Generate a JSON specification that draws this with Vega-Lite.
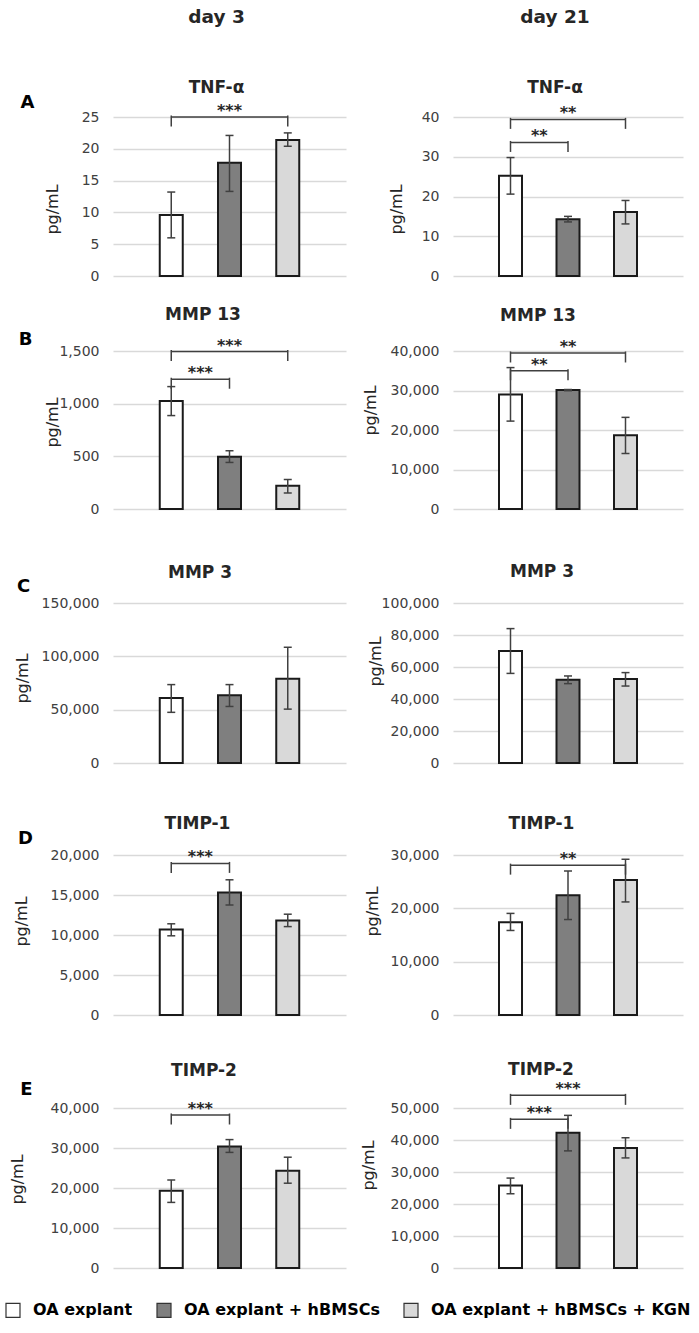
{
  "$schema": "https://vega.github.io/schema/vega-lite/v6.json",
  "background": "white",
  "padding": {"left": 5, "top": 7, "right": 5, "bottom": 5},
  "columns": 2,
  "spacing": {"row": 75, "column": 107},
  "bounds": "flush",
  "align": "each",
  "datasets": {
    "bars": [
      {"panel": "A3", "pos": 1, "group": "OA explant", "mean": 9.6, "lo": 6.0, "hi": 13.2},
      {"panel": "A3", "pos": 2, "group": "OA explant + hBMSCs", "mean": 17.8, "lo": 13.3, "hi": 22.1},
      {"panel": "A3", "pos": 3, "group": "OA explant + hBMSCs + KGN", "mean": 21.4, "lo": 20.4, "hi": 22.5},
      {"panel": "A21", "pos": 1, "group": "OA explant", "mean": 25.2, "lo": 20.6, "hi": 29.8},
      {"panel": "A21", "pos": 2, "group": "OA explant + hBMSCs", "mean": 14.3, "lo": 13.6, "hi": 15.0},
      {"panel": "A21", "pos": 3, "group": "OA explant + hBMSCs + KGN", "mean": 16.1, "lo": 13.1, "hi": 19.0},
      {"panel": "B3", "pos": 1, "group": "OA explant", "mean": 1025, "lo": 887, "hi": 1162},
      {"panel": "B3", "pos": 2, "group": "OA explant + hBMSCs", "mean": 497, "lo": 442, "hi": 553},
      {"panel": "B3", "pos": 3, "group": "OA explant + hBMSCs + KGN", "mean": 221, "lo": 152, "hi": 280},
      {"panel": "B21", "pos": 1, "group": "OA explant", "mean": 29000, "lo": 22250, "hi": 35800},
      {"panel": "B21", "pos": 2, "group": "OA explant + hBMSCs", "mean": 30100, "lo": 29950, "hi": 30250},
      {"panel": "B21", "pos": 3, "group": "OA explant + hBMSCs + KGN", "mean": 18650, "lo": 14050, "hi": 23200},
      {"panel": "C3", "pos": 1, "group": "OA explant", "mean": 61000, "lo": 47500, "hi": 73500},
      {"panel": "C3", "pos": 2, "group": "OA explant + hBMSCs", "mean": 63500, "lo": 53000, "hi": 73500},
      {"panel": "C3", "pos": 3, "group": "OA explant + hBMSCs + KGN", "mean": 79000, "lo": 50500, "hi": 108500},
      {"panel": "C21", "pos": 1, "group": "OA explant", "mean": 70000, "lo": 56000, "hi": 84000},
      {"panel": "C21", "pos": 2, "group": "OA explant + hBMSCs", "mean": 52000, "lo": 49600, "hi": 54400},
      {"panel": "C21", "pos": 3, "group": "OA explant + hBMSCs + KGN", "mean": 52500, "lo": 48100, "hi": 56500},
      {"panel": "D3", "pos": 1, "group": "OA explant", "mean": 10700, "lo": 9900, "hi": 11400},
      {"panel": "D3", "pos": 2, "group": "OA explant + hBMSCs", "mean": 15300, "lo": 13750, "hi": 16900},
      {"panel": "D3", "pos": 3, "group": "OA explant + hBMSCs + KGN", "mean": 11800, "lo": 11050, "hi": 12600},
      {"panel": "D21", "pos": 1, "group": "OA explant", "mean": 17400, "lo": 15850, "hi": 19050},
      {"panel": "D21", "pos": 2, "group": "OA explant + hBMSCs", "mean": 22450, "lo": 17900, "hi": 27000},
      {"panel": "D21", "pos": 3, "group": "OA explant + hBMSCs + KGN", "mean": 25300, "lo": 21200, "hi": 29200},
      {"panel": "E3", "pos": 1, "group": "OA explant", "mean": 19300, "lo": 16400, "hi": 22000},
      {"panel": "E3", "pos": 2, "group": "OA explant + hBMSCs", "mean": 30400, "lo": 28900, "hi": 32100},
      {"panel": "E3", "pos": 3, "group": "OA explant + hBMSCs + KGN", "mean": 24300, "lo": 21200, "hi": 27700},
      {"panel": "E21", "pos": 1, "group": "OA explant", "mean": 25800, "lo": 23200, "hi": 28100},
      {"panel": "E21", "pos": 2, "group": "OA explant + hBMSCs", "mean": 42300, "lo": 36600, "hi": 47700},
      {"panel": "E21", "pos": 3, "group": "OA explant + hBMSCs + KGN", "mean": 37500, "lo": 34400, "hi": 40700}
    ],
    "brackets": [
      {"panel": "A3", "from": 1, "to": 3, "mid": 2, "y": 25, "label": "***"},
      {"panel": "A21", "from": 1, "to": 3, "mid": 2, "y": 39.4, "label": "**"},
      {"panel": "A21", "from": 1, "to": 2, "mid": 1.5, "y": 33.6, "label": "**"},
      {"panel": "B3", "from": 1, "to": 3, "mid": 2, "y": 1495, "label": "***"},
      {"panel": "B3", "from": 1, "to": 2, "mid": 1.5, "y": 1232, "label": "***"},
      {"panel": "B21", "from": 1, "to": 3, "mid": 2, "y": 39500, "label": "**"},
      {"panel": "B21", "from": 1, "to": 2, "mid": 1.5, "y": 35000, "label": "**"},
      {"panel": "D3", "from": 1, "to": 2, "mid": 1.5, "y": 18950, "label": "***"},
      {"panel": "D21", "from": 1, "to": 3, "mid": 2, "y": 28100, "label": "**"},
      {"panel": "E3", "from": 1, "to": 2, "mid": 1.5, "y": 38250, "label": "***"},
      {"panel": "E21", "from": 1, "to": 3, "mid": 2, "y": 53950, "label": "***"},
      {"panel": "E21", "from": 1, "to": 2, "mid": 1.5, "y": 46450, "label": "***"}
    ]
  },
  "concat": [
    {
      "width": 233, "height": 159,
      "title": {"text": "day 3", "subtitle": "TNF-α", "fontSize": 18.5, "subtitlePadding": 54, "offset": -3, "dx": -13},
      "layer": [
        {"data": {"name": "bars"}, "transform": [{"filter": "datum.panel === 'A3'"}],
         "mark": {"type": "bar", "size": 23, "stroke": "#1a1a1a", "strokeWidth": 2, "opacity": 1},
         "encoding": {
           "x": {"field": "pos", "type": "quantitative", "scale": {"domain": [0.5, 3.5]}, "axis": {"orient": "top", "title": "A", "labels": false, "ticks": false, "domain": false, "grid": false, "titleX": -86, "titleY": -15, "titleAngle": 0, "titleAlign": "center", "titleBaseline": "middle", "titleFontSize": 18, "titleFontWeight": "bold", "titleColor": "#000000"}},
           "y": {"field": "mean", "type": "quantitative", "scale": {"domain": [0, 25], "nice": false}, "axis": {"title": "pg/mL", "values": [0, 5, 10, 15, 20, 25], "tickCount": 10, "format": ",d", "titleX": -61, "titleY": 92}},
           "fill": {"field": "group", "type": "nominal", "legend": {"title": null, "orient": "none", "legendX": -108, "legendY": 1185, "direction": "horizontal"}}
         }},
        {"data": {"name": "bars"}, "transform": [{"filter": "datum.panel === 'A3'"}], "mark": {"type": "rule", "color": "#404040", "strokeWidth": 1.5}, "encoding": {"x": {"field": "pos", "type": "quantitative"}, "y": {"field": "lo", "type": "quantitative"}, "y2": {"field": "hi"}}},
        {"data": {"name": "bars"}, "transform": [{"filter": "datum.panel === 'A3'"}], "mark": {"type": "tick", "orient": "horizontal", "size": 8, "thickness": 1.5, "color": "#404040", "opacity": 1}, "encoding": {"x": {"field": "pos", "type": "quantitative"}, "y": {"field": "lo", "type": "quantitative"}}},
        {"data": {"name": "bars"}, "transform": [{"filter": "datum.panel === 'A3'"}], "mark": {"type": "tick", "orient": "horizontal", "size": 8, "thickness": 1.5, "color": "#404040", "opacity": 1}, "encoding": {"x": {"field": "pos", "type": "quantitative"}, "y": {"field": "hi", "type": "quantitative"}}},
        {"data": {"name": "brackets"}, "transform": [{"filter": "datum.panel === 'A3'"}], "mark": {"type": "rule", "color": "#404040", "strokeWidth": 1.5}, "encoding": {"x": {"field": "from", "type": "quantitative"}, "x2": {"field": "to"}, "y": {"field": "y", "type": "quantitative"}}},
        {"data": {"name": "brackets"}, "transform": [{"filter": "datum.panel === 'A3'"}], "mark": {"type": "tick", "orient": "vertical", "size": 11, "thickness": 1.5, "color": "#404040", "opacity": 1, "yOffset": 4}, "encoding": {"x": {"field": "from", "type": "quantitative"}, "y": {"field": "y", "type": "quantitative"}}},
        {"data": {"name": "brackets"}, "transform": [{"filter": "datum.panel === 'A3'"}], "mark": {"type": "tick", "orient": "vertical", "size": 11, "thickness": 1.5, "color": "#404040", "opacity": 1, "yOffset": 4}, "encoding": {"x": {"field": "to", "type": "quantitative"}, "y": {"field": "y", "type": "quantitative"}}},
        {"data": {"name": "brackets"}, "transform": [{"filter": "datum.panel === 'A3'"}], "mark": {"type": "text", "font": "DejaVu Sans", "fontSize": 16, "fontWeight": "bold", "color": "#262626", "baseline": "alphabetic", "dy": -1}, "encoding": {"x": {"field": "mid", "type": "quantitative"}, "y": {"field": "y", "type": "quantitative"}, "text": {"field": "label"}}}
      ]
    },
    {
      "width": 230, "height": 159,
      "title": {"text": "day 21", "subtitle": "TNF-α", "fontSize": 18.5, "subtitlePadding": 54, "offset": 9, "dx": -13},
      "layer": [
        {"data": {"name": "bars"}, "transform": [{"filter": "datum.panel === 'A21'"}],
         "mark": {"type": "bar", "size": 23, "stroke": "#1a1a1a", "strokeWidth": 2, "opacity": 1},
         "encoding": {
           "x": {"field": "pos", "type": "quantitative", "scale": {"domain": [0.5, 3.5]}, "axis": null},
           "y": {"field": "mean", "type": "quantitative", "scale": {"domain": [0, 40], "nice": false}, "axis": {"title": "pg/mL", "values": [0, 10, 20, 30, 40], "tickCount": 10, "format": ",d", "titleX": -57, "titleY": 92}},
           "fill": {"field": "group", "type": "nominal"}
         }},
        {"data": {"name": "bars"}, "transform": [{"filter": "datum.panel === 'A21'"}], "mark": {"type": "rule", "color": "#404040", "strokeWidth": 1.5}, "encoding": {"x": {"field": "pos", "type": "quantitative", "axis": null}, "y": {"field": "lo", "type": "quantitative"}, "y2": {"field": "hi"}}},
        {"data": {"name": "bars"}, "transform": [{"filter": "datum.panel === 'A21'"}], "mark": {"type": "tick", "orient": "horizontal", "size": 8, "thickness": 1.5, "color": "#404040", "opacity": 1}, "encoding": {"x": {"field": "pos", "type": "quantitative", "axis": null}, "y": {"field": "lo", "type": "quantitative"}}},
        {"data": {"name": "bars"}, "transform": [{"filter": "datum.panel === 'A21'"}], "mark": {"type": "tick", "orient": "horizontal", "size": 8, "thickness": 1.5, "color": "#404040", "opacity": 1}, "encoding": {"x": {"field": "pos", "type": "quantitative", "axis": null}, "y": {"field": "hi", "type": "quantitative"}}},
        {"data": {"name": "brackets"}, "transform": [{"filter": "datum.panel === 'A21'"}], "mark": {"type": "rule", "color": "#404040", "strokeWidth": 1.5}, "encoding": {"x": {"field": "from", "type": "quantitative", "axis": null}, "x2": {"field": "to"}, "y": {"field": "y", "type": "quantitative"}}},
        {"data": {"name": "brackets"}, "transform": [{"filter": "datum.panel === 'A21'"}], "mark": {"type": "tick", "orient": "vertical", "size": 11, "thickness": 1.5, "color": "#404040", "opacity": 1, "yOffset": 4}, "encoding": {"x": {"field": "from", "type": "quantitative", "axis": null}, "y": {"field": "y", "type": "quantitative"}}},
        {"data": {"name": "brackets"}, "transform": [{"filter": "datum.panel === 'A21'"}], "mark": {"type": "tick", "orient": "vertical", "size": 11, "thickness": 1.5, "color": "#404040", "opacity": 1, "yOffset": 4}, "encoding": {"x": {"field": "to", "type": "quantitative", "axis": null}, "y": {"field": "y", "type": "quantitative"}}},
        {"data": {"name": "brackets"}, "transform": [{"filter": "datum.panel === 'A21'"}], "mark": {"type": "text", "font": "DejaVu Sans", "fontSize": 16, "fontWeight": "bold", "color": "#262626", "baseline": "alphabetic", "dy": -1}, "encoding": {"x": {"field": "mid", "type": "quantitative", "axis": null}, "y": {"field": "y", "type": "quantitative"}, "text": {"field": "label"}}}
      ]
    },
    {
      "width": 233, "height": 158,
      "title": {"text": "MMP 13", "offset": 6.5, "dx": -26.5},
      "layer": [
        {"data": {"name": "bars"}, "transform": [{"filter": "datum.panel === 'B3'"}],
         "mark": {"type": "bar", "size": 23, "stroke": "#1a1a1a", "strokeWidth": 2, "opacity": 1},
         "encoding": {
           "x": {"field": "pos", "type": "quantitative", "scale": {"domain": [0.5, 3.5]}, "axis": {"orient": "top", "title": "B", "labels": false, "ticks": false, "domain": false, "grid": false, "titleX": -88, "titleY": -12, "titleAngle": 0, "titleAlign": "center", "titleBaseline": "middle", "titleFontSize": 18, "titleFontWeight": "bold", "titleColor": "#000000"}},
           "y": {"field": "mean", "type": "quantitative", "scale": {"domain": [0, 1500], "nice": false}, "axis": {"title": "pg/mL", "values": [0, 500, 1000, 1500], "tickCount": 10, "format": ",d", "titleX": -61, "titleY": 71}},
           "fill": {"field": "group", "type": "nominal"}
         }},
        {"data": {"name": "bars"}, "transform": [{"filter": "datum.panel === 'B3'"}], "mark": {"type": "rule", "color": "#404040", "strokeWidth": 1.5}, "encoding": {"x": {"field": "pos", "type": "quantitative"}, "y": {"field": "lo", "type": "quantitative"}, "y2": {"field": "hi"}}},
        {"data": {"name": "bars"}, "transform": [{"filter": "datum.panel === 'B3'"}], "mark": {"type": "tick", "orient": "horizontal", "size": 8, "thickness": 1.5, "color": "#404040", "opacity": 1}, "encoding": {"x": {"field": "pos", "type": "quantitative"}, "y": {"field": "lo", "type": "quantitative"}}},
        {"data": {"name": "bars"}, "transform": [{"filter": "datum.panel === 'B3'"}], "mark": {"type": "tick", "orient": "horizontal", "size": 8, "thickness": 1.5, "color": "#404040", "opacity": 1}, "encoding": {"x": {"field": "pos", "type": "quantitative"}, "y": {"field": "hi", "type": "quantitative"}}},
        {"data": {"name": "brackets"}, "transform": [{"filter": "datum.panel === 'B3'"}], "mark": {"type": "rule", "color": "#404040", "strokeWidth": 1.5}, "encoding": {"x": {"field": "from", "type": "quantitative"}, "x2": {"field": "to"}, "y": {"field": "y", "type": "quantitative"}}},
        {"data": {"name": "brackets"}, "transform": [{"filter": "datum.panel === 'B3'"}], "mark": {"type": "tick", "orient": "vertical", "size": 11, "thickness": 1.5, "color": "#404040", "opacity": 1, "yOffset": 4}, "encoding": {"x": {"field": "from", "type": "quantitative"}, "y": {"field": "y", "type": "quantitative"}}},
        {"data": {"name": "brackets"}, "transform": [{"filter": "datum.panel === 'B3'"}], "mark": {"type": "tick", "orient": "vertical", "size": 11, "thickness": 1.5, "color": "#404040", "opacity": 1, "yOffset": 4}, "encoding": {"x": {"field": "to", "type": "quantitative"}, "y": {"field": "y", "type": "quantitative"}}},
        {"data": {"name": "brackets"}, "transform": [{"filter": "datum.panel === 'B3'"}], "mark": {"type": "text", "font": "DejaVu Sans", "fontSize": 16, "fontWeight": "bold", "color": "#262626", "baseline": "alphabetic", "dy": -1}, "encoding": {"x": {"field": "mid", "type": "quantitative"}, "y": {"field": "y", "type": "quantitative"}, "text": {"field": "label"}}}
      ]
    },
    {
      "width": 230, "height": 158,
      "title": {"text": "MMP 13", "offset": 13.5, "dx": -30},
      "layer": [
        {"data": {"name": "bars"}, "transform": [{"filter": "datum.panel === 'B21'"}],
         "mark": {"type": "bar", "size": 23, "stroke": "#1a1a1a", "strokeWidth": 2, "opacity": 1},
         "encoding": {
           "x": {"field": "pos", "type": "quantitative", "scale": {"domain": [0.5, 3.5]}, "axis": null},
           "y": {"field": "mean", "type": "quantitative", "scale": {"domain": [0, 40000], "nice": false}, "axis": {"title": "pg/mL", "values": [0, 10000, 20000, 30000, 40000], "tickCount": 10, "format": ",d", "titleX": -83, "titleY": 59}},
           "fill": {"field": "group", "type": "nominal"}
         }},
        {"data": {"name": "bars"}, "transform": [{"filter": "datum.panel === 'B21'"}], "mark": {"type": "rule", "color": "#404040", "strokeWidth": 1.5}, "encoding": {"x": {"field": "pos", "type": "quantitative", "axis": null}, "y": {"field": "lo", "type": "quantitative"}, "y2": {"field": "hi"}}},
        {"data": {"name": "bars"}, "transform": [{"filter": "datum.panel === 'B21'"}], "mark": {"type": "tick", "orient": "horizontal", "size": 8, "thickness": 1.5, "color": "#404040", "opacity": 1}, "encoding": {"x": {"field": "pos", "type": "quantitative", "axis": null}, "y": {"field": "lo", "type": "quantitative"}}},
        {"data": {"name": "bars"}, "transform": [{"filter": "datum.panel === 'B21'"}], "mark": {"type": "tick", "orient": "horizontal", "size": 8, "thickness": 1.5, "color": "#404040", "opacity": 1}, "encoding": {"x": {"field": "pos", "type": "quantitative", "axis": null}, "y": {"field": "hi", "type": "quantitative"}}},
        {"data": {"name": "brackets"}, "transform": [{"filter": "datum.panel === 'B21'"}], "mark": {"type": "rule", "color": "#404040", "strokeWidth": 1.5}, "encoding": {"x": {"field": "from", "type": "quantitative", "axis": null}, "x2": {"field": "to"}, "y": {"field": "y", "type": "quantitative"}}},
        {"data": {"name": "brackets"}, "transform": [{"filter": "datum.panel === 'B21'"}], "mark": {"type": "tick", "orient": "vertical", "size": 11, "thickness": 1.5, "color": "#404040", "opacity": 1, "yOffset": 4}, "encoding": {"x": {"field": "from", "type": "quantitative", "axis": null}, "y": {"field": "y", "type": "quantitative"}}},
        {"data": {"name": "brackets"}, "transform": [{"filter": "datum.panel === 'B21'"}], "mark": {"type": "tick", "orient": "vertical", "size": 11, "thickness": 1.5, "color": "#404040", "opacity": 1, "yOffset": 4}, "encoding": {"x": {"field": "to", "type": "quantitative", "axis": null}, "y": {"field": "y", "type": "quantitative"}}},
        {"data": {"name": "brackets"}, "transform": [{"filter": "datum.panel === 'B21'"}], "mark": {"type": "text", "font": "DejaVu Sans", "fontSize": 16, "fontWeight": "bold", "color": "#262626", "baseline": "alphabetic", "dy": -1}, "encoding": {"x": {"field": "mid", "type": "quantitative", "axis": null}, "y": {"field": "y", "type": "quantitative"}, "text": {"field": "label"}}}
      ]
    },
    {
      "width": 233, "height": 179,
      "title": {"text": "MMP 3", "offset": -4.5, "dx": -29.5},
      "layer": [
        {"data": {"name": "bars"}, "transform": [{"filter": "datum.panel === 'C3'"}],
         "mark": {"type": "bar", "size": 23, "stroke": "#1a1a1a", "strokeWidth": 2, "opacity": 1},
         "encoding": {
           "x": {"field": "pos", "type": "quantitative", "scale": {"domain": [0.5, 3.5]}, "axis": {"orient": "top", "title": "C", "labels": false, "ticks": false, "domain": false, "grid": false, "titleX": -90, "titleY": 2, "titleAngle": 0, "titleAlign": "center", "titleBaseline": "middle", "titleFontSize": 18, "titleFontWeight": "bold", "titleColor": "#000000"}},
           "y": {"field": "mean", "type": "quantitative", "scale": {"domain": [0, 167812.5], "nice": false}, "axis": {"title": "pg/mL", "values": [0, 50000, 100000, 150000], "tickCount": 10, "format": ",d", "titleX": -91, "titleY": 94}},
           "fill": {"field": "group", "type": "nominal"}
         }},
        {"data": {"name": "bars"}, "transform": [{"filter": "datum.panel === 'C3'"}], "mark": {"type": "rule", "color": "#404040", "strokeWidth": 1.5}, "encoding": {"x": {"field": "pos", "type": "quantitative"}, "y": {"field": "lo", "type": "quantitative"}, "y2": {"field": "hi"}}},
        {"data": {"name": "bars"}, "transform": [{"filter": "datum.panel === 'C3'"}], "mark": {"type": "tick", "orient": "horizontal", "size": 8, "thickness": 1.5, "color": "#404040", "opacity": 1}, "encoding": {"x": {"field": "pos", "type": "quantitative"}, "y": {"field": "lo", "type": "quantitative"}}},
        {"data": {"name": "bars"}, "transform": [{"filter": "datum.panel === 'C3'"}], "mark": {"type": "tick", "orient": "horizontal", "size": 8, "thickness": 1.5, "color": "#404040", "opacity": 1}, "encoding": {"x": {"field": "pos", "type": "quantitative"}, "y": {"field": "hi", "type": "quantitative"}}}
      ]
    },
    {
      "width": 230, "height": 179,
      "title": {"text": "MMP 3", "offset": 3.5, "dx": -26},
      "layer": [
        {"data": {"name": "bars"}, "transform": [{"filter": "datum.panel === 'C21'"}],
         "mark": {"type": "bar", "size": 23, "stroke": "#1a1a1a", "strokeWidth": 2, "opacity": 1},
         "encoding": {
           "x": {"field": "pos", "type": "quantitative", "scale": {"domain": [0.5, 3.5]}, "axis": null},
           "y": {"field": "mean", "type": "quantitative", "scale": {"domain": [0, 111875], "nice": false}, "axis": {"title": "pg/mL", "values": [0, 20000, 40000, 60000, 80000, 100000], "tickCount": 10, "format": ",d", "titleX": -78, "titleY": 77}},
           "fill": {"field": "group", "type": "nominal"}
         }},
        {"data": {"name": "bars"}, "transform": [{"filter": "datum.panel === 'C21'"}], "mark": {"type": "rule", "color": "#404040", "strokeWidth": 1.5}, "encoding": {"x": {"field": "pos", "type": "quantitative", "axis": null}, "y": {"field": "lo", "type": "quantitative"}, "y2": {"field": "hi"}}},
        {"data": {"name": "bars"}, "transform": [{"filter": "datum.panel === 'C21'"}], "mark": {"type": "tick", "orient": "horizontal", "size": 8, "thickness": 1.5, "color": "#404040", "opacity": 1}, "encoding": {"x": {"field": "pos", "type": "quantitative", "axis": null}, "y": {"field": "lo", "type": "quantitative"}}},
        {"data": {"name": "bars"}, "transform": [{"filter": "datum.panel === 'C21'"}], "mark": {"type": "tick", "orient": "horizontal", "size": 8, "thickness": 1.5, "color": "#404040", "opacity": 1}, "encoding": {"x": {"field": "pos", "type": "quantitative", "axis": null}, "y": {"field": "hi", "type": "quantitative"}}}
      ]
    },
    {
      "width": 233, "height": 177,
      "title": {"text": "TIMP-1", "offset": -3.5, "dx": -32},
      "layer": [
        {"data": {"name": "bars"}, "transform": [{"filter": "datum.panel === 'D3'"}],
         "mark": {"type": "bar", "size": 23, "stroke": "#1a1a1a", "strokeWidth": 2, "opacity": 1},
         "encoding": {
           "x": {"field": "pos", "type": "quantitative", "scale": {"domain": [0.5, 3.5]}, "axis": {"orient": "top", "title": "D", "labels": false, "ticks": false, "domain": false, "grid": false, "titleX": -88, "titleY": 0, "titleAngle": 0, "titleAlign": "center", "titleBaseline": "middle", "titleFontSize": 18, "titleFontWeight": "bold", "titleColor": "#000000"}},
           "y": {"field": "mean", "type": "quantitative", "scale": {"domain": [0, 22125], "nice": false}, "axis": {"title": "pg/mL", "values": [0, 5000, 10000, 15000, 20000], "tickCount": 10, "format": ",d", "titleX": -92, "titleY": 83}},
           "fill": {"field": "group", "type": "nominal"}
         }},
        {"data": {"name": "bars"}, "transform": [{"filter": "datum.panel === 'D3'"}], "mark": {"type": "rule", "color": "#404040", "strokeWidth": 1.5}, "encoding": {"x": {"field": "pos", "type": "quantitative"}, "y": {"field": "lo", "type": "quantitative"}, "y2": {"field": "hi"}}},
        {"data": {"name": "bars"}, "transform": [{"filter": "datum.panel === 'D3'"}], "mark": {"type": "tick", "orient": "horizontal", "size": 8, "thickness": 1.5, "color": "#404040", "opacity": 1}, "encoding": {"x": {"field": "pos", "type": "quantitative"}, "y": {"field": "lo", "type": "quantitative"}}},
        {"data": {"name": "bars"}, "transform": [{"filter": "datum.panel === 'D3'"}], "mark": {"type": "tick", "orient": "horizontal", "size": 8, "thickness": 1.5, "color": "#404040", "opacity": 1}, "encoding": {"x": {"field": "pos", "type": "quantitative"}, "y": {"field": "hi", "type": "quantitative"}}},
        {"data": {"name": "brackets"}, "transform": [{"filter": "datum.panel === 'D3'"}], "mark": {"type": "rule", "color": "#404040", "strokeWidth": 1.5}, "encoding": {"x": {"field": "from", "type": "quantitative"}, "x2": {"field": "to"}, "y": {"field": "y", "type": "quantitative"}}},
        {"data": {"name": "brackets"}, "transform": [{"filter": "datum.panel === 'D3'"}], "mark": {"type": "tick", "orient": "vertical", "size": 11, "thickness": 1.5, "color": "#404040", "opacity": 1, "yOffset": 4}, "encoding": {"x": {"field": "from", "type": "quantitative"}, "y": {"field": "y", "type": "quantitative"}}},
        {"data": {"name": "brackets"}, "transform": [{"filter": "datum.panel === 'D3'"}], "mark": {"type": "tick", "orient": "vertical", "size": 11, "thickness": 1.5, "color": "#404040", "opacity": 1, "yOffset": 4}, "encoding": {"x": {"field": "to", "type": "quantitative"}, "y": {"field": "y", "type": "quantitative"}}},
        {"data": {"name": "brackets"}, "transform": [{"filter": "datum.panel === 'D3'"}], "mark": {"type": "text", "font": "DejaVu Sans", "fontSize": 16, "fontWeight": "bold", "color": "#262626", "baseline": "alphabetic", "dy": -1}, "encoding": {"x": {"field": "mid", "type": "quantitative"}, "y": {"field": "y", "type": "quantitative"}, "text": {"field": "label"}}}
      ]
    },
    {
      "width": 230, "height": 177,
      "title": {"text": "TIMP-1", "offset": 5.5, "dx": -26.5},
      "layer": [
        {"data": {"name": "bars"}, "transform": [{"filter": "datum.panel === 'D21'"}],
         "mark": {"type": "bar", "size": 23, "stroke": "#1a1a1a", "strokeWidth": 2, "opacity": 1},
         "encoding": {
           "x": {"field": "pos", "type": "quantitative", "scale": {"domain": [0.5, 3.5]}, "axis": null},
           "y": {"field": "mean", "type": "quantitative", "scale": {"domain": [0, 33187.5], "nice": false}, "axis": {"title": "pg/mL", "values": [0, 10000, 20000, 30000], "tickCount": 10, "format": ",d", "titleX": -81, "titleY": 73}},
           "fill": {"field": "group", "type": "nominal"}
         }},
        {"data": {"name": "bars"}, "transform": [{"filter": "datum.panel === 'D21'"}], "mark": {"type": "rule", "color": "#404040", "strokeWidth": 1.5}, "encoding": {"x": {"field": "pos", "type": "quantitative", "axis": null}, "y": {"field": "lo", "type": "quantitative"}, "y2": {"field": "hi"}}},
        {"data": {"name": "bars"}, "transform": [{"filter": "datum.panel === 'D21'"}], "mark": {"type": "tick", "orient": "horizontal", "size": 8, "thickness": 1.5, "color": "#404040", "opacity": 1}, "encoding": {"x": {"field": "pos", "type": "quantitative", "axis": null}, "y": {"field": "lo", "type": "quantitative"}}},
        {"data": {"name": "bars"}, "transform": [{"filter": "datum.panel === 'D21'"}], "mark": {"type": "tick", "orient": "horizontal", "size": 8, "thickness": 1.5, "color": "#404040", "opacity": 1}, "encoding": {"x": {"field": "pos", "type": "quantitative", "axis": null}, "y": {"field": "hi", "type": "quantitative"}}},
        {"data": {"name": "brackets"}, "transform": [{"filter": "datum.panel === 'D21'"}], "mark": {"type": "rule", "color": "#404040", "strokeWidth": 1.5}, "encoding": {"x": {"field": "from", "type": "quantitative", "axis": null}, "x2": {"field": "to"}, "y": {"field": "y", "type": "quantitative"}}},
        {"data": {"name": "brackets"}, "transform": [{"filter": "datum.panel === 'D21'"}], "mark": {"type": "tick", "orient": "vertical", "size": 11, "thickness": 1.5, "color": "#404040", "opacity": 1, "yOffset": 4}, "encoding": {"x": {"field": "from", "type": "quantitative", "axis": null}, "y": {"field": "y", "type": "quantitative"}}},
        {"data": {"name": "brackets"}, "transform": [{"filter": "datum.panel === 'D21'"}], "mark": {"type": "tick", "orient": "vertical", "size": 11, "thickness": 1.5, "color": "#404040", "opacity": 1, "yOffset": 4}, "encoding": {"x": {"field": "to", "type": "quantitative", "axis": null}, "y": {"field": "y", "type": "quantitative"}}},
        {"data": {"name": "brackets"}, "transform": [{"filter": "datum.panel === 'D21'"}], "mark": {"type": "text", "font": "DejaVu Sans", "fontSize": 16, "fontWeight": "bold", "color": "#262626", "baseline": "alphabetic", "dy": -1}, "encoding": {"x": {"field": "mid", "type": "quantitative", "axis": null}, "y": {"field": "y", "type": "quantitative"}, "text": {"field": "label"}}}
      ]
    },
    {
      "width": 233, "height": 178,
      "title": {"text": "TIMP-2", "offset": 0.5, "dx": -25.5},
      "layer": [
        {"data": {"name": "bars"}, "transform": [{"filter": "datum.panel === 'E3'"}],
         "mark": {"type": "bar", "size": 23, "stroke": "#1a1a1a", "strokeWidth": 2, "opacity": 1},
         "encoding": {
           "x": {"field": "pos", "type": "quantitative", "scale": {"domain": [0.5, 3.5]}, "axis": {"orient": "top", "title": "E", "labels": false, "ticks": false, "domain": false, "grid": false, "titleX": -87, "titleY": -1, "titleAngle": 0, "titleAlign": "center", "titleBaseline": "middle", "titleFontSize": 18, "titleFontWeight": "bold", "titleColor": "#000000"}},
           "y": {"field": "mean", "type": "quantitative", "scale": {"domain": [0, 44500], "nice": false}, "axis": {"title": "pg/mL", "values": [0, 10000, 20000, 30000, 40000], "tickCount": 10, "format": ",d", "titleX": -96, "titleY": 89}},
           "fill": {"field": "group", "type": "nominal"}
         }},
        {"data": {"name": "bars"}, "transform": [{"filter": "datum.panel === 'E3'"}], "mark": {"type": "rule", "color": "#404040", "strokeWidth": 1.5}, "encoding": {"x": {"field": "pos", "type": "quantitative"}, "y": {"field": "lo", "type": "quantitative"}, "y2": {"field": "hi"}}},
        {"data": {"name": "bars"}, "transform": [{"filter": "datum.panel === 'E3'"}], "mark": {"type": "tick", "orient": "horizontal", "size": 8, "thickness": 1.5, "color": "#404040", "opacity": 1}, "encoding": {"x": {"field": "pos", "type": "quantitative"}, "y": {"field": "lo", "type": "quantitative"}}},
        {"data": {"name": "bars"}, "transform": [{"filter": "datum.panel === 'E3'"}], "mark": {"type": "tick", "orient": "horizontal", "size": 8, "thickness": 1.5, "color": "#404040", "opacity": 1}, "encoding": {"x": {"field": "pos", "type": "quantitative"}, "y": {"field": "hi", "type": "quantitative"}}},
        {"data": {"name": "brackets"}, "transform": [{"filter": "datum.panel === 'E3'"}], "mark": {"type": "rule", "color": "#404040", "strokeWidth": 1.5}, "encoding": {"x": {"field": "from", "type": "quantitative"}, "x2": {"field": "to"}, "y": {"field": "y", "type": "quantitative"}}},
        {"data": {"name": "brackets"}, "transform": [{"filter": "datum.panel === 'E3'"}], "mark": {"type": "tick", "orient": "vertical", "size": 11, "thickness": 1.5, "color": "#404040", "opacity": 1, "yOffset": 4}, "encoding": {"x": {"field": "from", "type": "quantitative"}, "y": {"field": "y", "type": "quantitative"}}},
        {"data": {"name": "brackets"}, "transform": [{"filter": "datum.panel === 'E3'"}], "mark": {"type": "tick", "orient": "vertical", "size": 11, "thickness": 1.5, "color": "#404040", "opacity": 1, "yOffset": 4}, "encoding": {"x": {"field": "to", "type": "quantitative"}, "y": {"field": "y", "type": "quantitative"}}},
        {"data": {"name": "brackets"}, "transform": [{"filter": "datum.panel === 'E3'"}], "mark": {"type": "text", "font": "DejaVu Sans", "fontSize": 16, "fontWeight": "bold", "color": "#262626", "baseline": "alphabetic", "dy": -1}, "encoding": {"x": {"field": "mid", "type": "quantitative"}, "y": {"field": "y", "type": "quantitative"}, "text": {"field": "label"}}}
      ]
    },
    {
      "width": 230, "height": 178,
      "title": {"text": "TIMP-2", "offset": 1.9, "dx": -27},
      "layer": [
        {"data": {"name": "bars"}, "transform": [{"filter": "datum.panel === 'E21'"}],
         "mark": {"type": "bar", "size": 23, "stroke": "#1a1a1a", "strokeWidth": 2, "opacity": 1},
         "encoding": {
           "x": {"field": "pos", "type": "quantitative", "scale": {"domain": [0.5, 3.5]}, "axis": null},
           "y": {"field": "mean", "type": "quantitative", "scale": {"domain": [0, 55625], "nice": false}, "axis": {"title": "pg/mL", "values": [0, 10000, 20000, 30000, 40000, 50000], "tickCount": 10, "format": ",d", "titleX": -85, "titleY": 75}},
           "fill": {"field": "group", "type": "nominal"}
         }},
        {"data": {"name": "bars"}, "transform": [{"filter": "datum.panel === 'E21'"}], "mark": {"type": "rule", "color": "#404040", "strokeWidth": 1.5}, "encoding": {"x": {"field": "pos", "type": "quantitative", "axis": null}, "y": {"field": "lo", "type": "quantitative"}, "y2": {"field": "hi"}}},
        {"data": {"name": "bars"}, "transform": [{"filter": "datum.panel === 'E21'"}], "mark": {"type": "tick", "orient": "horizontal", "size": 8, "thickness": 1.5, "color": "#404040", "opacity": 1}, "encoding": {"x": {"field": "pos", "type": "quantitative", "axis": null}, "y": {"field": "lo", "type": "quantitative"}}},
        {"data": {"name": "bars"}, "transform": [{"filter": "datum.panel === 'E21'"}], "mark": {"type": "tick", "orient": "horizontal", "size": 8, "thickness": 1.5, "color": "#404040", "opacity": 1}, "encoding": {"x": {"field": "pos", "type": "quantitative", "axis": null}, "y": {"field": "hi", "type": "quantitative"}}},
        {"data": {"name": "brackets"}, "transform": [{"filter": "datum.panel === 'E21'"}], "mark": {"type": "rule", "color": "#404040", "strokeWidth": 1.5}, "encoding": {"x": {"field": "from", "type": "quantitative", "axis": null}, "x2": {"field": "to"}, "y": {"field": "y", "type": "quantitative"}}},
        {"data": {"name": "brackets"}, "transform": [{"filter": "datum.panel === 'E21'"}], "mark": {"type": "tick", "orient": "vertical", "size": 11, "thickness": 1.5, "color": "#404040", "opacity": 1, "yOffset": 4}, "encoding": {"x": {"field": "from", "type": "quantitative", "axis": null}, "y": {"field": "y", "type": "quantitative"}}},
        {"data": {"name": "brackets"}, "transform": [{"filter": "datum.panel === 'E21'"}], "mark": {"type": "tick", "orient": "vertical", "size": 11, "thickness": 1.5, "color": "#404040", "opacity": 1, "yOffset": 4}, "encoding": {"x": {"field": "to", "type": "quantitative", "axis": null}, "y": {"field": "y", "type": "quantitative"}}},
        {"data": {"name": "brackets"}, "transform": [{"filter": "datum.panel === 'E21'"}], "mark": {"type": "text", "font": "DejaVu Sans", "fontSize": 16, "fontWeight": "bold", "color": "#262626", "baseline": "alphabetic", "dy": -1}, "encoding": {"x": {"field": "mid", "type": "quantitative", "axis": null}, "y": {"field": "y", "type": "quantitative"}, "text": {"field": "label"}}}
      ]
    }
  ],
  "config": {
    "font": "DejaVu Sans",
    "view": {"stroke": null},
    "range": {"category": ["#ffffff", "#7f7f7f", "#d9d9d9"]},
    "axisY": {"domain": false, "ticks": false, "grid": true, "gridColor": "#d9d9d9", "gridWidth": 1.3, "labelFont": "DejaVu Sans", "labelFontSize": 14, "labelColor": "#404040", "labelPadding": 14, "titleFont": "DejaVu Sans", "titleFontSize": 16, "titleFontWeight": "normal", "titleColor": "#262626", "titleBaseline": "middle", "titleAlign": "center"},
    "title": {"font": "DejaVu Sans", "fontSize": 17, "fontWeight": "bold", "color": "#262626", "anchor": "middle", "frame": "group", "subtitleFont": "DejaVu Sans", "subtitleFontSize": 17, "subtitleFontWeight": "bold", "subtitleColor": "#262626"},
    "legend": {"symbolType": "square", "symbolSize": 196, "symbolStrokeColor": "#333333", "symbolStrokeWidth": 1.2, "labelFont": "DejaVu Sans", "labelFontSize": 16, "labelFontWeight": "bold", "labelColor": "#000000", "labelOffset": 12, "columnPadding": 21, "labelLimit": 400, "padding": 0}
  }
}
